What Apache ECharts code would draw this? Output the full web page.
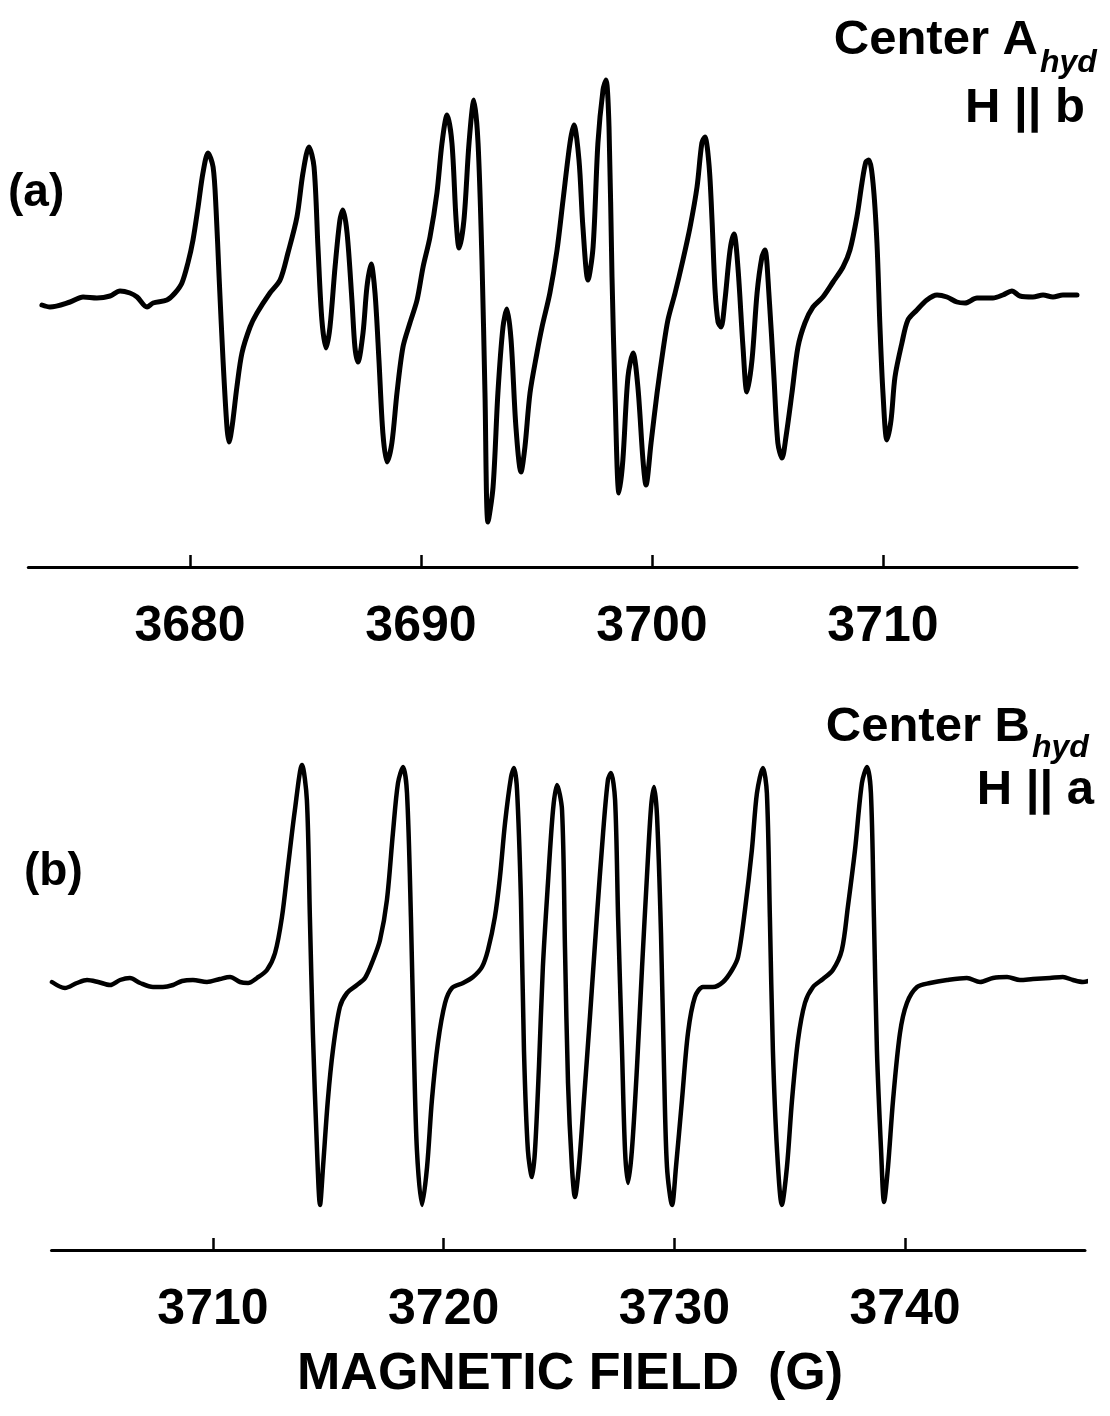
<!DOCTYPE html>
<html>
<head>
<meta charset="utf-8">
<script src="https://cdn.jsdelivr.net/npm/echarts@6/dist/echarts.min.js"></script>
<style>
html,body{margin:0;padding:0;background:#fff;}
#c{width:1110px;height:1416px;}
</style>
</head>
<body>
<div id="c"></div>
<script>
// ---- Panel (a): Center A_hyd, H || b ----
const fieldA = [3673.59,3673.94,3674.81,3675.37,3675.97,3676.54,3676.97,3677.40,3677.71,3678.14,3678.40,3679.00,3679.35,3679.65,3679.91,3680.13,3680.35,3680.56,3680.78,3681.00,3681.13,3681.26,3681.43,3681.60,3681.69,3681.82,3682.03,3682.25,3682.60,3682.90,3683.46,3683.90,3684.24,3684.63,3684.89,3685.15,3685.37,3685.54,3685.71,3685.89,3686.06,3686.28,3686.49,3686.62,3686.80,3687.01,3687.14,3687.27,3687.49,3687.66,3687.84,3688.01,3688.18,3688.35,3688.53,3688.74,3688.96,3689.22,3689.52,3689.83,3690.09,3690.39,3690.69,3690.91,3691.13,3691.34,3691.52,3691.65,3691.86,3692.08,3692.29,3692.47,3692.64,3692.77,3692.90,3693.12,3693.33,3693.55,3693.72,3693.90,3694.11,3694.33,3694.50,3694.72,3695.02,3695.24,3695.58,3695.89,3696.15,3696.45,3696.62,3696.84,3697.01,3697.23,3697.45,3697.66,3697.88,3698.01,3698.14,3698.27,3698.40,3698.57,3698.74,3698.96,3699.18,3699.39,3699.61,3699.74,3699.96,3700.22,3700.48,3700.69,3701.00,3701.34,3701.65,3701.95,3702.16,3702.29,3702.47,3702.60,3702.73,3702.86,3702.99,3703.16,3703.38,3703.55,3703.72,3703.94,3704.11,3704.33,3704.55,3704.76,3704.89,3705.06,3705.28,3705.45,3705.63,3705.80,3706.06,3706.32,3706.62,3706.97,3707.40,3707.84,3708.27,3708.57,3708.87,3709.09,3709.26,3709.39,3709.57,3709.74,3709.87,3710.00,3710.17,3710.35,3710.52,3710.82,3711.08,3711.47,3711.90,3712.34,3712.77,3713.20,3713.55,3714.07,3714.76,3715.19,3715.58,3715.93,3716.49,3716.93,3717.36,3717.79,3718.40];
const signalA = [-5,-7,-2,3,2,4,9,7,3,-7,-3,0,7,17,37,60,93,127,147,133,90,23,-60,-127,-142,-127,-87,-53,-27,-13,7,20,47,83,127,153,133,53,-20,-48,-27,33,80,90,67,0,-47,-62,-33,13,36,7,-60,-133,-162,-143,-93,-47,-23,0,33,63,107,157,185,157,80,52,80,157,200,157,40,-93,-222,-187,-93,-27,-9,-40,-127,-172,-147,-93,-53,-27,7,50,100,157,175,140,73,20,53,157,210,220,173,23,-93,-193,-160,-77,-53,-87,-160,-185,-143,-93,-50,-20,7,40,73,113,157,163,135,80,10,-22,-27,0,50,66,33,-47,-92,-60,7,43,50,7,-77,-143,-158,-137,-93,-47,-23,-7,3,18,33,50,83,117,138,140,117,57,-27,-93,-140,-120,-77,-43,-20,-10,0,5,3,-2,-3,2,2,5,9,4,3,5,3,5,5];
const ticksA = [3680,3690,3700,3710];

// ---- Panel (b): Center B_hyd, H || a ----
const fieldB = [3703.02,3703.58,3704.10,3704.54,3705.02,3705.54,3705.97,3706.40,3706.84,3707.40,3707.83,3708.27,3708.66,3709.13,3709.74,3710.30,3710.74,3711.17,3711.52,3711.91,3712.34,3712.69,3712.99,3713.25,3713.55,3713.86,3714.07,3714.20,3714.33,3714.51,3714.64,3714.77,3714.98,3715.20,3715.50,3715.81,3716.24,3716.59,3716.94,3717.24,3717.54,3717.80,3718.02,3718.24,3718.41,3718.58,3718.71,3718.84,3719.06,3719.28,3719.49,3719.75,3720.06,3720.36,3720.84,3721.27,3721.66,3721.92,3722.22,3722.44,3722.66,3722.92,3723.05,3723.18,3723.35,3723.48,3723.65,3723.83,3723.96,3724.13,3724.30,3724.52,3724.74,3724.91,3725.13,3725.26,3725.39,3725.56,3725.69,3725.86,3726.08,3726.34,3726.64,3726.91,3727.12,3727.25,3727.43,3727.56,3727.73,3727.86,3727.99,3728.16,3728.38,3728.60,3728.81,3728.99,3729.12,3729.25,3729.42,3729.55,3729.68,3729.90,3730.07,3730.33,3730.59,3730.89,3731.24,3731.67,3732.11,3732.50,3732.76,3733.06,3733.36,3733.58,3733.84,3734.01,3734.14,3734.27,3734.45,3734.66,3734.88,3735.10,3735.36,3735.66,3736.01,3736.44,3736.87,3737.26,3737.52,3737.83,3738.13,3738.35,3738.52,3738.65,3738.78,3738.96,3739.09,3739.26,3739.48,3739.78,3740.08,3740.52,3741.08,3741.82,3742.68,3743.25,3743.81,3744.42,3744.98,3745.54,3746.28,3746.84,3747.28,3747.71,3748.10];
const signalB = [1,-5,0,3,1,-2,3,5,0,-4,-4,-2,2,3,1,4,6,1,0,5,13,30,66,116,173,218,183,66,-50,-167,-222,-184,-117,-67,-24,-10,-2,5,23,43,83,150,200,216,190,66,-67,-167,-222,-184,-117,-60,-20,-5,0,6,16,33,66,106,160,206,215,193,83,-67,-167,-194,-167,-84,16,100,173,198,173,33,-100,-184,-214,-184,-117,-34,66,150,203,210,183,66,-67,-167,-200,-167,-84,16,106,176,196,166,50,-84,-184,-222,-184,-117,-50,-14,-4,-4,1,13,26,73,133,190,215,190,66,-67,-167,-222,-184,-117,-57,-20,-4,4,13,33,76,133,200,216,190,66,-67,-167,-219,-184,-117,-50,-20,-4,0,3,5,1,5,6,3,4,5,6,3,1,3];
const ticksB = [3710,3720,3730,3740];

const xLabel = 'MAGNETIC FIELD  (G)';

function pairs(xs, ys){
  const n = Math.min(xs.length, ys.length);
  const out = [];
  for (let i = 0; i < n; i++) out.push([xs[i], ys[i]]);
  return out;
}

const FONT = "'Liberation Sans', Arial, Helvetica, sans-serif";

function xAxisCfg(gridIndex, min, max, ticks){
  return {
    gridIndex: gridIndex, type: 'value', min: min, max: max,
    axisLine: {show: true, onZero: false, lineStyle: {color: '#000', width: 3}},
    axisTick: {show: true, inside: true, length: 12, customValues: ticks, lineStyle: {color: '#000', width: 2.5}},
    axisLabel: {show: true, customValues: ticks, fontSize: 50, fontWeight: 'bold', color: '#000', margin: 35, fontFamily: FONT,
                formatter: function (v) { return String(v); }},
    splitLine: {show: false}
  };
}

function txt(text, x, y, size, align, style){
  return {
    type: 'text',
    x: x, y: y, silent: true,
    style: {
      text: text, x: 0, y: 0,
      fill: '#000',
      font: (style || 'normal') + ' bold ' + size + 'px ' + FONT,
      textAlign: align, textVerticalAlign: 'middle'
    }
  };
}

const chart = echarts.init(document.getElementById('c'), null, {renderer: 'canvas'});
chart.setOption({
  animation: false,
  backgroundColor: '#fff',
  grid: [
    {left: 28.3, width: 1048.7, top: 60, height: 507},
    {left: 51.5, width: 1033.5, top: 750, height: 500}
  ],
  xAxis: [
    xAxisCfg(0, 3673, 3718.4, ticksA),
    xAxisCfg(1, 3703, 3747.8, ticksB)
  ],
  yAxis: [
    {gridIndex: 0, type: 'value', min: -267, max: 240, show: false},
    {gridIndex: 1, type: 'value', min: -267, max: 233, show: false}
  ],
  series: [
    {type: 'line', xAxisIndex: 0, yAxisIndex: 0, data: pairs(fieldA, signalA),
     showSymbol: false, symbol: 'none', smooth: 0.3, clip: false,
     lineStyle: {color: '#000', width: 5, join: 'round', cap: 'round'}},
    {type: 'line', xAxisIndex: 1, yAxisIndex: 1, data: pairs(fieldB, signalB),
     showSymbol: false, symbol: 'none', smooth: 0.3, clip: false,
     lineStyle: {color: '#000', width: 4.5, join: 'round', cap: 'round'}}
  ],
  graphic: [
    txt('(a)', 8, 193, 46, 'left'),
    txt('(b)', 24, 872, 46, 'left'),
    txt('Center A', 1038, 40, 49, 'right'),
    txt('hyd', 1040, 63, 32, 'left', 'italic'),
    txt('H || b', 1085, 108, 49, 'right'),
    txt('Center B', 1030, 727, 49, 'right'),
    txt('hyd', 1032, 748, 32, 'left', 'italic'),
    txt('H || a', 1094, 790, 49, 'right'),
    txt(xLabel, 570, 1375, 52, 'center')
  ]
});
</script>
</body>
</html>
